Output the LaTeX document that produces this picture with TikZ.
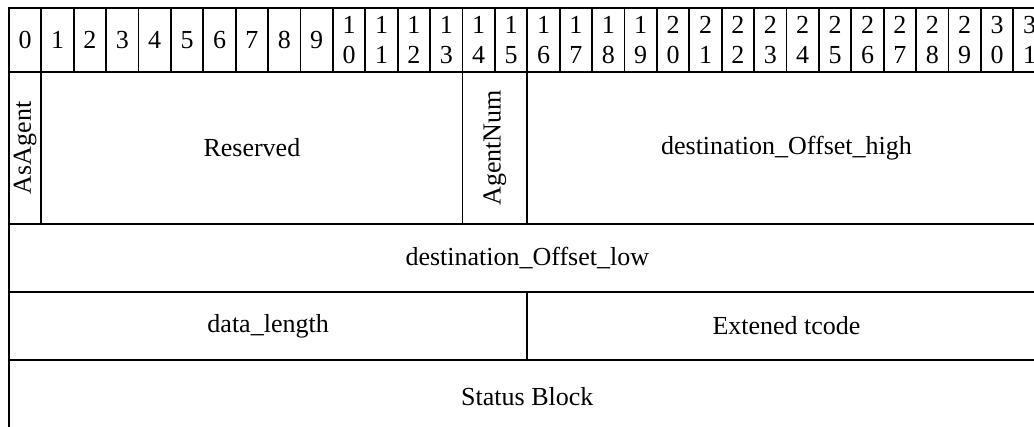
\documentclass[tikz,border=0pt]{standalone}
\usepackage{fontspec}
\setmainfont{Liberation Serif}
\begin{document}
\begin{tikzpicture}[x=1pt,y=-1pt,
  cell/.style={draw=black, line width=1.8pt, anchor=north west, inner sep=0pt,
    align=center, font=\fontsize{26}{30}\selectfont},
  vtext/.style={rotate=90, inner sep=0pt, font=\fontsize{26}{30}\selectfont}]
\useasboundingbox (0,0) rectangle (1034,427);
\clip (0,0) rectangle (1034,427);
% header row: bit numbers
\foreach \k in {0,...,31}{
  \pgfmathtruncatemacro\tens{\k/10}
  \pgfmathtruncatemacro\ones{\k-10*\tens}
  \ifnum\k<10 \def\lab{\k}\else \def\lab{\tens\\\ones}\fi
  \node[cell, minimum width=32.4, minimum height=63.7] (h\k) at ({8+32.4*\k},7.3) {\lab};
}
% row 1
\node[cell, minimum width=32.4, minimum height=152] (asagent) at (8,71) {};
\node[vtext] (asagenttxt) at (asagent.center) {AsAgent};
\node[cell, minimum width=421.2, minimum height=152] (reserved) at (40.4,71) {Reserved};
\node[cell, minimum width=64.8, minimum height=152] (agentnum) at (461.6,71) {};
\node[vtext] (agentnumtxt) at (agentnum.center) {AgentNum};
\node[cell, minimum width=518.4, minimum height=152] (doh) at (526.4,71) {destination\_Offset\_high};
% row 2
\node[cell, minimum width=1036.8, minimum height=68] (dol) at (8,223) {destination\_Offset\_low};
% row 3
\node[cell, minimum width=518.4, minimum height=68] (dlen) at (8,291) {data\_length};
\node[cell, minimum width=518.4, minimum height=68] (etc) at (526.4,291) {Extened tcode};
% row 4
\node[cell, minimum width=1036.8, minimum height=74] (sb) at (8,359) {Status Block};
\end{tikzpicture}
\end{document}
